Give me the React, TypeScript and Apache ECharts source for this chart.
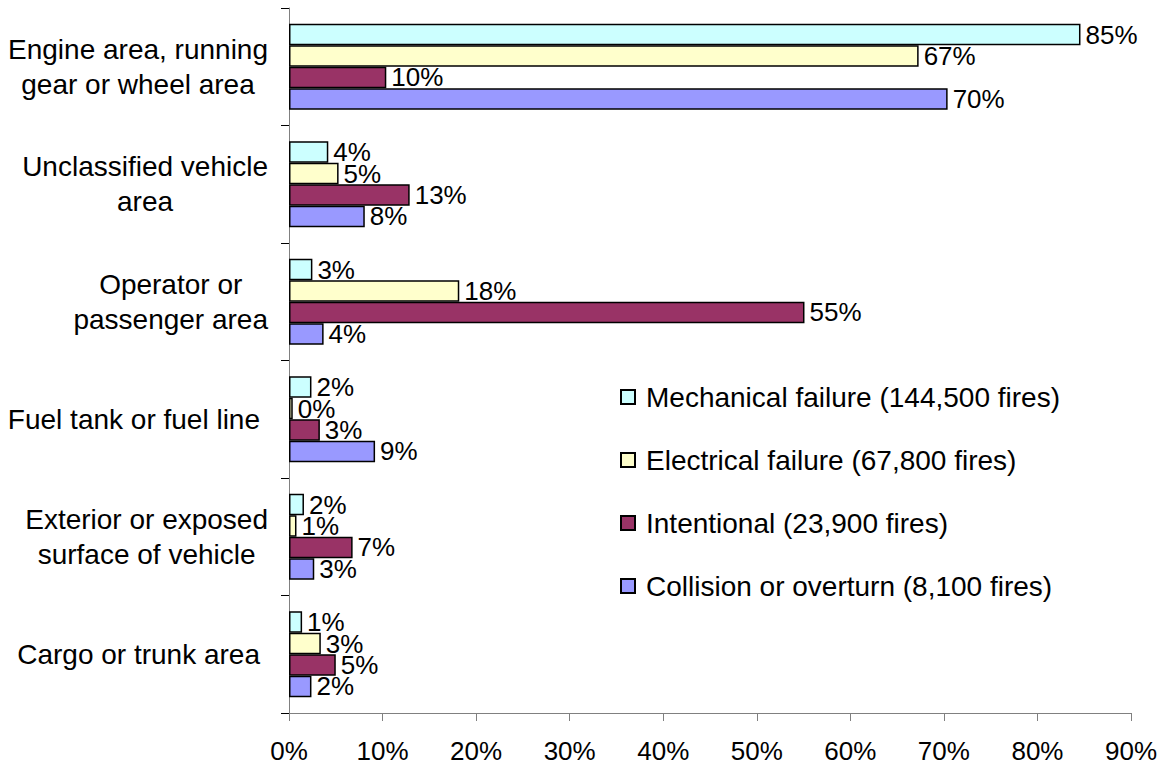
import React, { useEffect, useRef } from "react";
import * as echarts from "echarts";

const categories = [
  "Engine area, running\ngear or wheel area",
  "Unclassified vehicle\narea",
  "Operator or\npassenger area",
  "Fuel tank or fuel line",
  "Exterior or exposed\nsurface of vehicle",
  "Cargo or trunk area",
];

const seriesNames = [
  "Mechanical failure (144,500 fires)",
  "Electrical failure (67,800 fires)",
  "Intentional (23,900 fires)",
  "Collision or overturn (8,100 fires)",
];

const mechanical = [84.6, 4.2, 2.5, 2.4, 1.6, 1.4];
const electrical = [67.3, 5.3, 18.2, 0.4, 0.8, 3.4];
const intentional = [10.4, 12.9, 55.1, 3.3, 6.8, 5.0];
const collision = [70.4, 8.1, 3.7, 9.2, 2.7, 2.4];

const seriesValues = [mechanical, electrical, intentional, collision];
const colors = ["#CCFFFF", "#FFFFCC", "#993366", "#9999FF"];

const xTicks = { min: 0, max: 90, interval: 10 };

const FONT = "Liberation Sans, Arial, sans-serif";

export default function App() {
  const ref = useRef<HTMLDivElement>(null);
  useEffect(() => {
    if (!ref.current) return;
    const chart = echarts.init(ref.current, null, { renderer: "svg" });
    const option = {
      animation: false,
      backgroundColor: "#ffffff",
      textStyle: { fontFamily: FONT },
      grid: { left: 289, right: 38, top: 8, bottom: 54, containLabel: false },
      legend: {
        orient: "vertical",
        left: 615,
        top: 378,
        itemWidth: 14,
        itemHeight: 14,
        itemGap: 35,
        icon: "rect",
        data: seriesNames,
        textStyle: { fontSize: 28, color: "#000", fontFamily: FONT, padding: [0, 0, 0, 6] },
        selectedMode: false,
      },
      xAxis: {
        type: "value",
        min: xTicks.min,
        max: xTicks.max,
        interval: xTicks.interval,
        splitLine: { show: false },
        axisLine: { show: true, lineStyle: { color: "#808080", width: 1 } },
        axisTick: { show: true, length: 8, lineStyle: { color: "#808080" } },
        axisLabel: {
          formatter: (v: number) => `${v}%`,
          fontSize: 26,
          lineHeight: 26,
          color: "#000",
          fontFamily: FONT,
          margin: 25,
        },
      },
      yAxis: {
        type: "category",
        inverse: true,
        data: categories,
        axisLine: { show: true, lineStyle: { color: "#808080", width: 1 } },
        axisTick: { show: true, length: 8, alignWithLabel: false, lineStyle: { color: "#000" } },
        axisLabel: {
          margin: 21,
          align: "right",
          fontSize: 28,
          color: "#000",
          fontFamily: FONT,
          lineHeight: 35,
          formatter: (v: string) => {
            const lines = v.split("\n");
            if (lines.length === 1) return `{s|${lines[0]}}`;
            return lines.map((l) => `{c|${l}}`).join("\n");
          },
          rich: {
            c: { align: "center", fontSize: 28, lineHeight: 35, fontFamily: FONT, color: "#000" },
            s: { fontSize: 28, lineHeight: 35, fontFamily: FONT, color: "#000", padding: [0, 8, 0, 0] },
          },
        },
      },
      series: seriesNames.map((name, i) => ({
        name,
        type: "bar",
        data: seriesValues[i],
        barGap: "0%",
        barCategoryGap: "27%",
        itemStyle: { color: colors[i], borderColor: "#000", borderWidth: 1.5 },
        label: {
          show: true,
          position: "right",
          distance: 5,
          fontSize: 26,
          color: "#000",
          fontFamily: FONT,
          formatter: (p: any) => `${Math.round(p.value)}%`,
        },
      })),
    };
    chart.setOption(option as any);
    return () => chart.dispose();
  }, []);
  return <div ref={ref} style={{ width: 1169, height: 767, position: "absolute", left: 0, top: 0 }} />;
}
